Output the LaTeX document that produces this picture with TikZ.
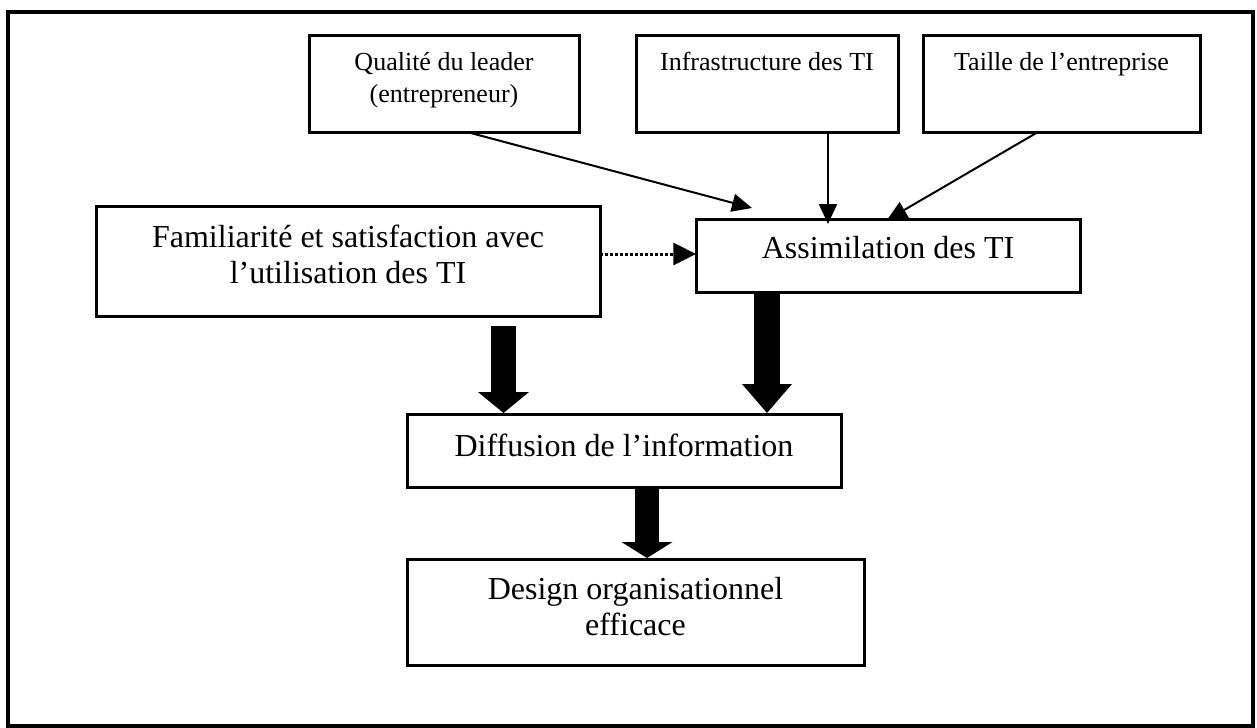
\documentclass[tikz,border=0pt]{standalone}
\usepackage{fontspec}
\setmainfont{Liberation Serif}[Ligatures=NoCommon]
\usetikzlibrary{arrows.meta,calc}

% fixed-size box content: width, height, depth of first baseline, text
\newcommand{\boxtext}[4]{\parbox[b][#2][t]{#1}{\centering\rule{0pt}{#3}#4\par}}

\tikzset{
  box/.style={draw, line width=2.25pt, inner sep=0pt, outer sep=0pt},
  bigtext/.style={font=\fontsize{24}{27}\selectfont},
  smalltext/.style={font=\fontsize{19.5}{24}\selectfont},
  thinarrow/.style={line width=1.5pt, -{Triangle[length=15pt,width=13.5pt]}},
  dotarrow/.style={line width=2.25pt, dash pattern=on 2.25pt off 1.5pt,
    -{Triangle[length=17pt,width=16.5pt]}},
}

\begin{document}
\begin{tikzpicture}[x=0.75pt,y=-0.75pt]
\useasboundingbox (0,0) rectangle (1257,728);

% outer frame
\draw[line width=3pt] (8,12) rectangle (1253,726);

% factor boxes
\node[box, smalltext] (quality) at (444,83.5)
  {\boxtext{202.5pt}{72.75pt}{26.25pt}{Qualité du leader\\(entrepreneur)}};
\node[box, smalltext] (infra) at (767,83.5)
  {\boxtext{196.5pt}{72.75pt}{26.25pt}{Infrastructure des TI}};
\node[box, smalltext] (taille) at (1061.5,83.5)
  {\boxtext{207.75pt}{72.75pt}{26.25pt}{Taille de l’entreprise}};

\node[box, bigtext] (fam) at (348,261)
  {\boxtext{378pt}{82.5pt}{30.75pt}{Familiarité et satisfaction avec\\l’utilisation des TI}};
\node[box, bigtext] (assim) at (888,255.5)
  {\boxtext{288pt}{54.75pt}{29.25pt}{Assimilation des TI}};
\node[box, bigtext] (diff) at (624,450.5)
  {\boxtext{325.5pt}{54.75pt}{31.5pt}{Diffusion de l’information}};
\node[box, bigtext] (design) at (635.5,612)
  {\boxtext{342.75pt}{79.5pt}{30pt}{Design organisationnel\\efficace}};

% thin arrows into the assimilation box
\draw[thinarrow] ($(quality.south west)+(158,0)$) -- ($(assim.north west)+(56,-11)$);
\draw[thinarrow] ($(infra.south west)+(192,0)$) -- ($(assim.north west)+(132,5)$);
\draw[thinarrow] ($(taille.south west)+(115,0)$) -- ($(assim.north west)+(191,1)$);

% dotted link
\draw[dotarrow] ($(fam.north east)+(0,48)$) -- ($(assim.north west)+(0,35)$);

% block arrows
\draw[line width=18.75pt, -{Triangle[length=15.75pt,width=38.25pt,line width=0pt]}]
  ($(fam.south west)+(407.5,10)$) -- ($(diff.north west)+(96.5,-1)$);
\draw[line width=19.5pt, -{Triangle[length=21.75pt,width=37.5pt,line width=0pt]}]
  ($(assim.south west)+(71,0)$) -- ($(diff.north west)+(360,-1)$);
\draw[line width=18pt, -{Triangle[length=12pt,width=38.25pt,line width=0pt]}]
  ($(diff.south west)+(240,0)$) -- ($(design.north west)+(240,-1)$);
\end{tikzpicture}
\end{document}
